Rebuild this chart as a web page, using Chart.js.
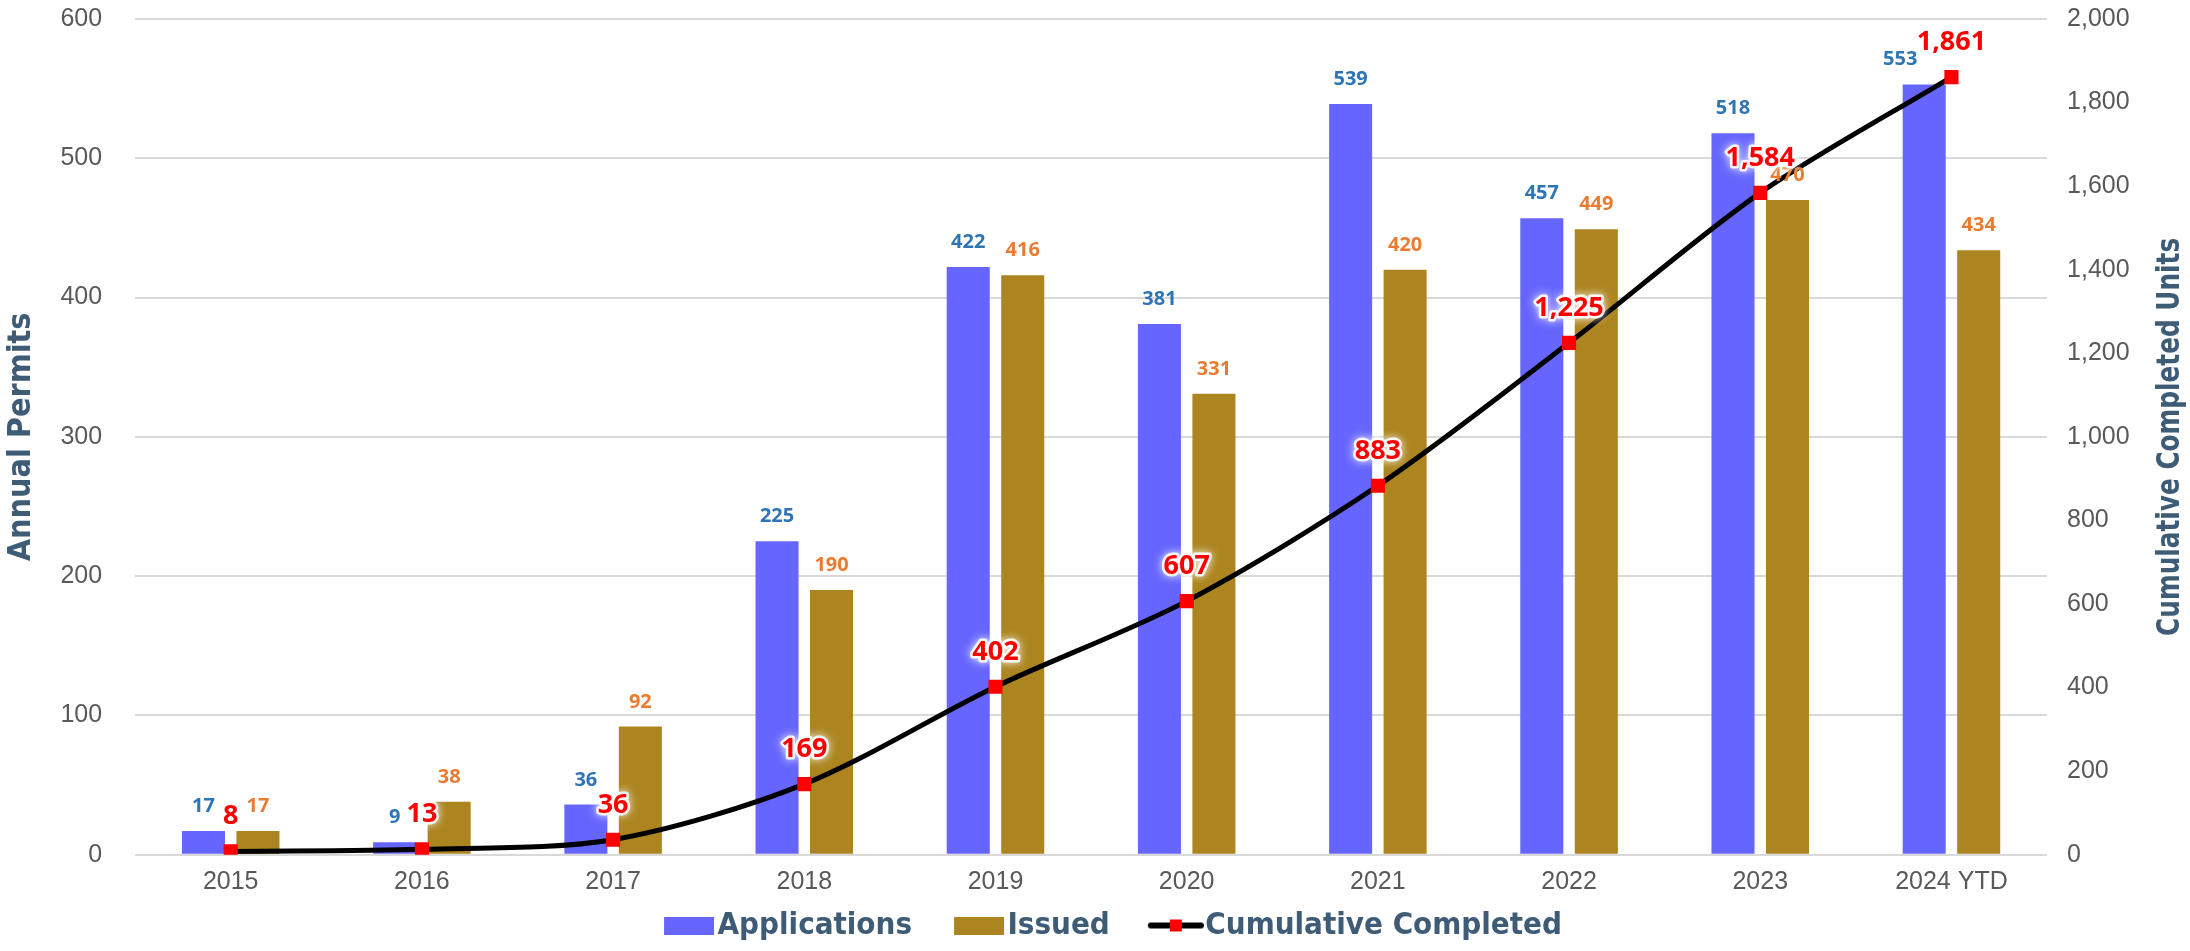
<!DOCTYPE html>
<html>
<head>
<meta charset="utf-8">
<script src="https://cdn.jsdelivr.net/npm/chart.js@4.4.1/dist/chart.umd.min.js"></script>
<style>
  html, body { margin: 0; padding: 0; background: #ffffff; }
  #chart_box { width: 2190px; height: 951px; }
</style>
</head>
<body>
<div id="chart_box"><canvas id="permits_canvas" width="2190" height="951"></canvas></div>
<script>
// values
const years = ['2015', '2016', '2017', '2018', '2019', '2020', '2021', '2022', '2023', '2024 YTD'];
const applications = [17, 9, 36, 225, 422, 381, 539, 457, 518, 553];
const issued = [17, 38, 92, 190, 416, 331, 420, 449, 470, 434];
const cumulative_completed = [8, 13, 36, 169, 402, 607, 883, 1225, 1584, 1861];

const BLUE_BAR = '#6666FF';
const OLIVE_BAR = '#AD8520';
const TITLE_COLOR = '#3E5C76';
const TICK_COLOR = '#595959';
const NARROW_FONT = "'Liberation Sans Narrow', 'DejaVu Sans Condensed', 'Arial Narrow', sans-serif";
const TICK_FONT = "'Liberation Sans', Arial, sans-serif";
const RIGHT_TITLE = 'Cumulative Completed Units';

// text drawn above each bar / point, one entry per dataset
const label_styles = [
  { font: "bold 20px 'Open Sans'", color: '#2E75B6', lift: 19, halo: false },
  { font: "bold 20px 'Open Sans'", color: '#E97C30', lift: 19, halo: false },
  { font: "bold 27px 'Open Sans'", color: '#FF0000', lift: 27, halo: true }
];
// the last Applications label was moved aside in the original so it
// does not run into the 1,861 label
const label_nudges = { '0:9': -24 };

/**
 * Legend swatches. The image is centred on the legend box, so the visible
 * part is pushed to the right end to sit close to the legend text.
 */
function make_bar_swatch(color) {
  const c = document.createElement('canvas');
  c.width = 100;
  c.height = 18;
  const ctx = c.getContext('2d');
  ctx.fillStyle = color;
  ctx.fillRect(48, 0, 50, 18);
  return c;
}

function make_line_swatch() {
  const c = document.createElement('canvas');
  c.width = 100;
  c.height = 18;
  const ctx = c.getContext('2d');
  ctx.strokeStyle = '#000000';
  ctx.lineWidth = 6;
  ctx.lineCap = 'round';
  ctx.beginPath();
  ctx.moveTo(47, 9);
  ctx.lineTo(97, 9);
  ctx.stroke();
  ctx.fillStyle = '#FF0000';
  ctx.fillRect(66, 3, 12, 12);
  return c;
}

const swatches = [make_bar_swatch(BLUE_BAR), make_bar_swatch(OLIVE_BAR), make_line_swatch()];

const value_labels = {
  id: 'value_labels',
  afterDatasetsDraw(chart) {
    const ctx = chart.ctx;
    chart.data.datasets.forEach((dataset, i) => {
      const meta = chart.getDatasetMeta(i);
      const style = label_styles[i];
      ctx.save();
      ctx.font = style.font;
      ctx.textAlign = 'center';
      ctx.textBaseline = 'alphabetic';
      meta.data.forEach((element, j) => {
        const text = dataset.data[j].toLocaleString('en-US');
        const x = element.x + (label_nudges[i + ':' + j] || 0);
        const y = element.y - style.lift;
        if (style.halo) {
          ctx.shadowColor = 'rgba(255,255,255,1)';
          ctx.shadowBlur = 8;
          ctx.lineJoin = 'round';
          ctx.lineWidth = 5;
          ctx.strokeStyle = 'rgba(255,255,255,0.9)';
          ctx.strokeText(text, x, y);
          ctx.shadowBlur = 0;
        }
        ctx.fillStyle = style.color;
        ctx.fillText(text, x, y);
      });
      ctx.restore();
    });
  }
};

// the right axis title reads bottom-to-top in the original; Chart.js turns
// it the other way, so its own title only keeps the room and this draws it
const right_title = {
  id: 'right_title',
  afterDraw(chart) {
    const scale = chart.scales.y1;
    const ctx = chart.ctx;
    ctx.save();
    ctx.font = "bold 32px " + NARROW_FONT;
    ctx.fillStyle = TITLE_COLOR;
    ctx.textAlign = 'center';
    ctx.textBaseline = 'middle';
    ctx.translate(scale.right - 19, (scale.top + scale.bottom) / 2);
    ctx.rotate(-Math.PI / 2);
    ctx.scale(0.86, 1);
    ctx.fillText(RIGHT_TITLE, 0, 0);
    ctx.restore();
  }
};

new Chart(document.getElementById('permits_canvas'), {
  type: 'bar',
  data: {
    labels: years,
    datasets: [
      {
        label: 'Applications',
        data: applications,
        backgroundColor: BLUE_BAR,
        yAxisID: 'y',
        order: 2,
        categoryPercentage: 0.57,
        barPercentage: 0.79
      },
      {
        label: 'Issued',
        data: issued,
        backgroundColor: OLIVE_BAR,
        yAxisID: 'y',
        order: 2,
        categoryPercentage: 0.57,
        barPercentage: 0.79
      },
      {
        type: 'line',
        label: 'Cumulative Completed',
        data: cumulative_completed,
        yAxisID: 'y1',
        order: 1,
        borderColor: '#000000',
        borderWidth: 5,
        tension: 0.3,
        pointStyle: 'rect',
        pointRadius: 10,
        pointBackgroundColor: '#FF0000',
        pointBorderWidth: 0
      }
    ]
  },
  options: {
    responsive: false,
    animation: false,
    devicePixelRatio: 1,
    layout: { padding: { left: 2, right: 0, top: 0, bottom: 0 } },
    plugins: {
      tooltip: { enabled: false },
      legend: {
        position: 'bottom',
        labels: {
          usePointStyle: true,
          pointStyleWidth: 72,
          boxHeight: 18,
          padding: 8,
          color: TITLE_COLOR,
          font: { family: NARROW_FONT, size: 31, weight: 'bold' },
          sort: (a, b) => a.datasetIndex - b.datasetIndex,
          generateLabels(chart) {
            const items = Chart.defaults.plugins.legend.labels.generateLabels(chart);
            items.forEach((item) => { item.pointStyle = swatches[item.datasetIndex]; });
            return items;
          }
        }
      }
    },
    scales: {
      x: {
        grid: { display: false },
        border: { display: false },
        ticks: {
          color: TICK_COLOR,
          padding: 4,
          font: { family: TICK_FONT, size: 25, lineHeight: 1.25 }
        }
      },
      y: {
        position: 'left',
        min: 0,
        max: 600,
        ticks: {
          stepSize: 100,
          color: TICK_COLOR,
          padding: 4,
          font: { family: TICK_FONT, size: 25 }
        },
        grid: { color: '#D9D9D9', lineWidth: 2, drawTicks: true, tickLength: 29, tickColor: 'rgba(0,0,0,0)' },
        border: { display: false },
        title: {
          display: true,
          text: 'Annual Permits',
          color: TITLE_COLOR,
          padding: { top: 0, bottom: 16 },
          font: { family: NARROW_FONT, size: 32, weight: 'bold' }
        }
      },
      y1: {
        position: 'right',
        min: 0,
        max: 2000,
        ticks: {
          stepSize: 200,
          color: TICK_COLOR,
          padding: 4,
          font: { family: TICK_FONT, size: 25 },
          callback: (value) => value.toLocaleString('en-US')
        },
        grid: { drawOnChartArea: false, drawTicks: true, tickLength: 16, tickColor: 'rgba(0,0,0,0)' },
        border: { display: false },
        title: {
          display: true,
          text: RIGHT_TITLE,
          color: 'rgba(0,0,0,0)',
          padding: { top: 0, bottom: 18 },
          font: { family: NARROW_FONT, size: 32, weight: 'bold' }
        }
      }
    }
  },
  plugins: [value_labels, right_title]
});
</script>
</body>
</html>
